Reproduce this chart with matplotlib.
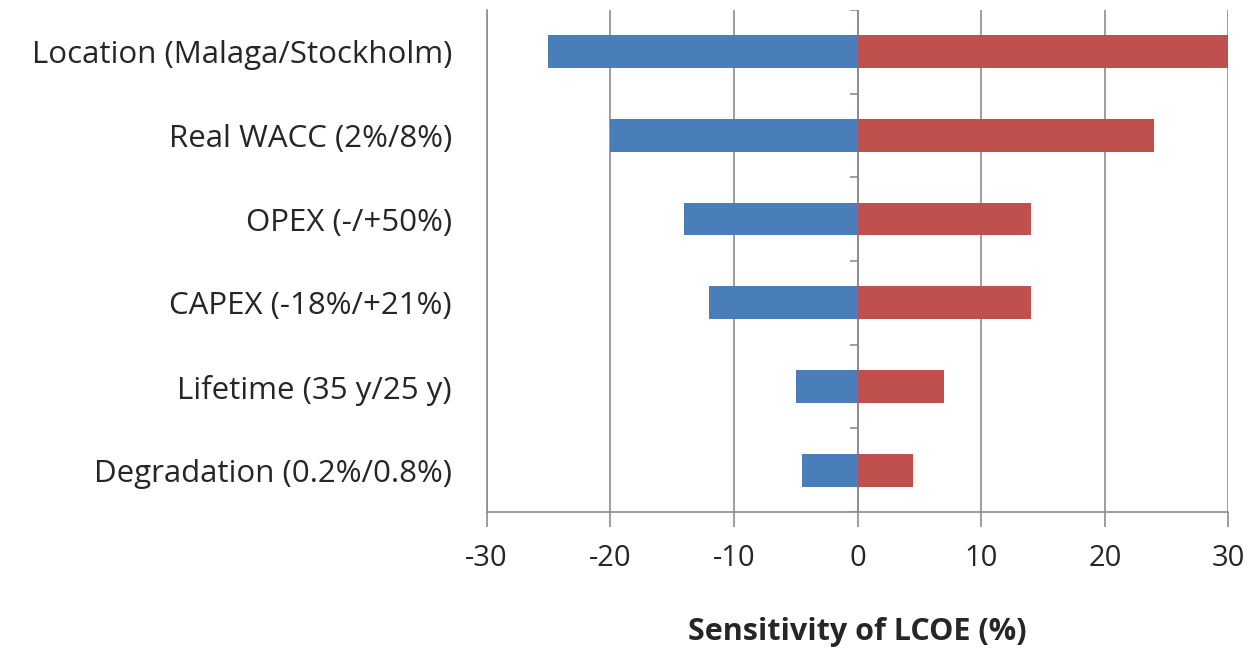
import matplotlib
matplotlib.use('Agg')
import matplotlib.pyplot as plt
import numpy as np

# tornado chart data
CATEGORIES = [
    'Location (Malaga/Stockholm)',
    'Real WACC (2%/8%)',
    'OPEX (-/+50%)',
    'CAPEX (-18%/+21%)',
    'Lifetime (35 y/25 y)',
    'Degradation (0.2%/0.8%)',
]
LOW = [-25, -20, -14, -12, -5, -4.5]
HIGH = [30, 24, 14, 14, 7, 4.5]
XTICKS = [-30, -20, -10, 0, 10, 20, 30]

BLUE = '#4a7ebb'
RED = '#c0504d'
GRID = '#8c8c8c'

plt.rcParams['font.family'] = ['Open Sans', 'DejaVu Sans']
plt.rcParams['axes.unicode_minus'] = False

fig = plt.figure(figsize=(12.51, 6.54), dpi=100)
ax = fig.add_axes([0.389, 0.217, 0.593, 0.768])

ys = np.arange(len(CATEGORIES))
ax.barh(ys, LOW, height=0.39, color=BLUE, zorder=3)
ax.barh(ys, HIGH, height=0.39, color=RED, zorder=3)

ax.set_xlim(-30, 30)
ax.set_ylim(len(CATEGORIES) - 0.5, -0.5)

# vertical gridlines
ax.set_xticks(XTICKS)
ax.xaxis.grid(True, color=GRID, linewidth=1.2, zorder=0)
ax.set_axisbelow(True)

# category axis drawn at zero with tick marks between categories
ax.axvline(0, color=GRID, linewidth=1.2, zorder=2)
bounds = np.arange(len(CATEGORIES) + 1) - 0.5
ax.hlines(bounds, -0.6, 0, color=GRID, linewidth=1.2, zorder=2)

ax.set_yticks(ys)
ax.set_yticklabels(CATEGORIES, fontsize=22.5, color='#262626')
ax.tick_params(axis='y', length=0, pad=25)
ax.tick_params(axis='x', length=11, width=1.2, color=GRID, pad=12,
               labelsize=21, labelcolor='#262626')

for side in ['top', 'right']:
    ax.spines[side].set_visible(False)
for side in ['left', 'bottom']:
    ax.spines[side].set_color(GRID)
    ax.spines[side].set_linewidth(1.2)

ax.set_xlabel('Sensitivity of LCOE (%)', fontsize=22, fontweight='bold',
              color='#262626', labelpad=32)

fig.savefig('out.png', dpi=100)
